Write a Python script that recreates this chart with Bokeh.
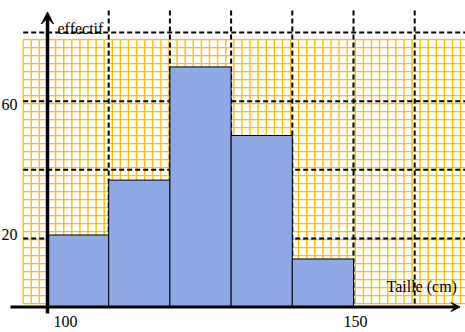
import numpy as np
from bokeh.plotting import figure
from bokeh.models import Range1d, Arrow, VeeHead, Label
from bokeh.embed import file_html
from bokeh.resources import INLINE

# ---- data ----
CLASS_EDGES = [100, 110, 120, 130, 140, 150]
EFFECTIFS = [21, 37, 70, 50, 14]
X_TICKS = [100, 150]
X_TICK_LABELS = ["100", "150"]
Y_TICKS = [20, 60]
Y_TICK_LABELS = ["20", "60"]
MAJOR_X = [110, 120, 130, 140, 150, 160]
MAJOR_Y = [20, 40, 60, 80]
X_TITLE = "Taille (cm)"
Y_TITLE = "effectif"

# ---- figure ----
XR = (92.32, 168.30)
YR = (-7.43, 89.36)
p = figure(width=465, height=332, x_range=Range1d(*XR), y_range=Range1d(*YR),
           x_axis_type=None, y_axis_type=None, toolbar_location=None,
           output_backend="svg", min_border=0)
p.outline_line_color = None
p.grid.visible = False
p.background_fill_color = "white"
p.border_fill_color = "white"

FONT = "Liberation Serif"
YELLOW = "#FFC000"

# graph paper background (decoration)
paper_x0, paper_x1 = 96.03, XR[1]
paper_y0, paper_y1 = 1.0, 78.0
gx = np.arange(paper_x0, paper_x1, 8.1 / 6.12)
gy = np.arange(paper_y0, paper_y1 + 0.01, 8.0 / 3.43)
p.segment(x0=gx, y0=paper_y0, x1=gx, y1=paper_y1, line_color=YELLOW, line_width=1.4)
p.segment(x0=paper_x0, y0=gy, x1=paper_x1, y1=gy, line_color=YELLOW, line_width=1.4)

# dashed major grid
p.segment(x0=MAJOR_X, y0=paper_y0, x1=MAJOR_X, y1=87.3,
          line_color="black", line_width=2, line_dash="5 3")
p.segment(x0=paper_x0, y0=MAJOR_Y, x1=paper_x1, y1=MAJOR_Y,
          line_color="black", line_width=2, line_dash="5 3")

# histogram bars
p.quad(left=CLASS_EDGES[:-1], right=CLASS_EDGES[1:], bottom=0, top=EFFECTIFS,
       fill_color="#8DA8E4", line_color="black", line_width=1)

# axes with arrows
x_origin = CLASS_EDGES[0]
p.add_layout(Arrow(x_start=x_origin, y_start=-1.9, x_end=x_origin, y_end=86.0,
                   line_width=3.5, line_color="black",
                   end=VeeHead(size=12, fill_color="black", line_color="black")))
p.add_layout(Arrow(x_start=93.95, y_start=0, x_end=167.4, y_end=0,
                   line_width=3, line_color="black",
                   end=VeeHead(size=9, fill_color="black", line_color="black")))

# tick labels
x_nudge = [18, 2]
for t, lab, dx in zip(X_TICKS, X_TICK_LABELS, x_nudge):
    p.add_layout(Label(x=t, y=0, x_offset=dx, y_offset=-14.5, text=lab,
                       text_align="center", text_baseline="middle",
                       text_font=FONT, text_font_size="16px", text_color="black"))
y_nudge = [4, -3.5]
for t, lab, dy in zip(Y_TICKS, Y_TICK_LABELS, y_nudge):
    p.add_layout(Label(x=x_origin, y=t, x_offset=-30, y_offset=dy, text=lab,
                       text_align="right", text_baseline="middle",
                       text_font=FONT, text_font_size="16px", text_color="black"))

# axis titles
p.add_layout(Label(x=x_origin, y=80, x_offset=10, y_offset=4.5, text=Y_TITLE,
                   text_align="left", text_baseline="alphabetic",
                   text_font=FONT, text_font_size="16px", text_color="black"))
p.add_layout(Label(x=150, y=0, x_offset=33, y_offset=21, text=X_TITLE,
                   text_align="left", text_baseline="alphabetic",
                   text_font=FONT, text_font_size="16px", text_color="black"))

open("out.html", "w").write(file_html(p, INLINE))
